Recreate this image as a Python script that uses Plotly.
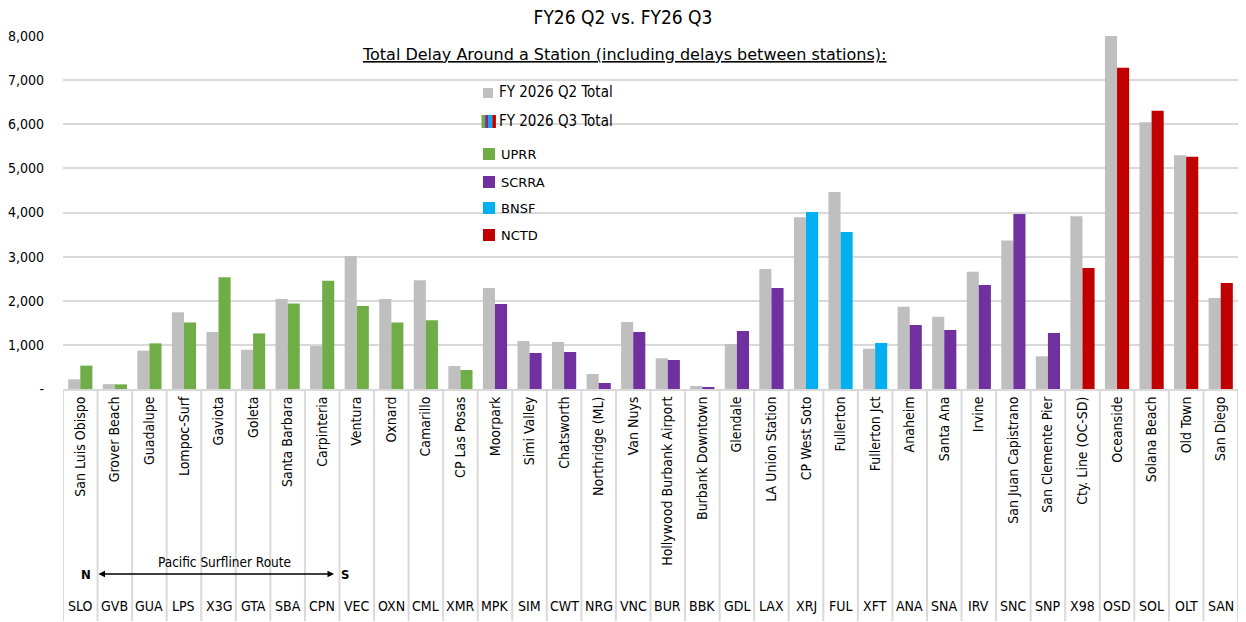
import plotly.graph_objects as go

codes = ["SLO","GVB","GUA","LPS","X3G","GTA","SBA","CPN","VEC","OXN","CML","XMR",
         "MPK","SIM","CWT","NRG","VNC","BUR","BBK","GDL","LAX","XRJ","FUL","XFT",
         "ANA","SNA","IRV","SNC","SNP","X98","OSD","SOL","OLT","SAN"]
names = ["San Luis Obispo","Grover Beach","Guadalupe","Lompoc-Surf","Gaviota","Goleta",
         "Santa Barbara","Carpinteria","Ventura","Oxnard","Camarillo","CP Las Posas",
         "Moorpark","Simi Valley","Chatsworth","Northridge (ML)","Van Nuys",
         "Hollywood Burbank Airport","Burbank Downtown","Glendale","LA Union Station",
         "CP West Soto","Fullerton","Fullerton Jct","Anaheim","Santa Ana","Irvine",
         "San Juan Capistrano","San Clemente Pier","Cty. Line (OC-SD)","Oceanside",
         "Solana Beach","Old Town","San Diego"]
operators = (["UPRR"]*12 + ["SCRRA"]*9 + ["BNSF"]*3 + ["SCRRA"]*5 + ["NCTD"]*5)
q2_total = [220,110,870,1740,1290,890,2040,975,3015,2040,2465,520,
            2290,1088,1066,340,1519,696,68,1020,2721,3893,4467,914,
            1866,1640,2660,3363,741,3916,8000,6047,5299,2063]
q3_total = [530,105,1035,1505,2530,1260,1935,2455,1880,1505,1557,430,
            1927,816,839,136,1293,658,38,1315,2290,4014,3560,1043,
            1451,1338,2358,3968,1270,2744,7279,6304,5261,2404]
y_ticks = [0,1000,2000,3000,4000,5000,6000,7000,8000]
y_tick_text = ["-","1,000","2,000","3,000","4,000","5,000","6,000","7,000","8,000"]

op_colors = {"UPRR":"#70AD47","SCRRA":"#7030A0","BNSF":"#00B0F0","NCTD":"#C00000"}
GRAY = "#BFBFBF"
GRID = "#D9D9D9"
COND = "DejaVu Sans Condensed, Liberation Sans Narrow, Arial Narrow, sans-serif"
GOTH = "DejaVu Sans, sans-serif"

fig = go.Figure()
fig.add_trace(go.Bar(x=codes, y=q2_total, name="FY 2026 Q2 Total",
                     marker=dict(color=GRAY, line=dict(width=0))))
fig.add_trace(go.Bar(x=codes, y=q3_total, name="FY 2026 Q3 Total",
                     marker=dict(color=[op_colors[o] for o in operators], line=dict(width=0))))

W, H = 1246, 622
L, R, T, B = 63, 8, 36, 233
pw, ph = W - L - R, H - T - B

def px(x):
    return (x - L) / pw

def py(y):
    return (H - B - y) / ph

shapes = []
annotations = []

# category separators below axis
for i in range(len(codes) + 1):
    shapes.append(dict(type="line", xref="x", yref="paper", x0=i - 0.5, x1=i - 0.5,
                       y0=0, y1=py(621), line=dict(color=GRID, width=2), layer="above"))

# code labels
for c in codes:
    annotations.append(dict(x=c, xref="x", y=py(606), yref="paper", text=c,
                            showarrow=False, font=dict(family=COND, size=14, color="#000"),
                            xanchor="center", yanchor="middle"))

# route arrow
annotations.append(dict(x=px(334), y=py(574), xref="paper", yref="paper", text="",
                        showarrow=True, ax=-237, ay=0, axref="pixel", ayref="pixel",
                        arrowside="end+start", arrowhead=2, arrowsize=1, arrowwidth=1.3,
                        arrowcolor="#000"))
annotations.append(dict(x=px(86), y=py(574), xref="paper", yref="paper", text="<b>N</b>",
                        showarrow=False, xanchor="center", yanchor="middle",
                        font=dict(family=COND, size=13, color="#000")))
annotations.append(dict(x=px(345), y=py(574), xref="paper", yref="paper", text="<b>S</b>",
                        showarrow=False, xanchor="center", yanchor="middle",
                        font=dict(family=COND, size=13, color="#000")))
annotations.append(dict(x=px(224), y=py(562), xref="paper", yref="paper",
                        text="Pacific Surfliner Route", showarrow=False,
                        xanchor="center", yanchor="middle",
                        font=dict(family=COND, size=13.5, color="#000")))

# subtitle
annotations.append(dict(x=px(624), y=py(55), xref="paper", yref="paper",
                        text="<u>Total Delay Around a Station (including delays between stations):</u>",
                        showarrow=False, xanchor="center", yanchor="middle",
                        font=dict(family=GOTH, size=16, color="#000")))

# legend box
shapes.append(dict(type="rect", xref="paper", yref="paper", x0=px(470), x1=px(621),
                   y0=py(250), y1=py(76), fillcolor="white", line=dict(width=0), layer="between"))
shapes.append(dict(type="rect", xref="paper", yref="paper", x0=px(483), x1=px(493),
                   y0=py(98), y1=py(88), fillcolor=GRAY, line=dict(width=0), layer="above"))
stripe_cols = ["#70AD47", "#7030A0", "#00B0F0", "#C00000"]
for k, col in enumerate(stripe_cols):
    shapes.append(dict(type="rect", xref="paper", yref="paper",
                       x0=px(481.5 + k * 3.6), x1=px(481.5 + (k + 1) * 3.6),
                       y0=py(128), y1=py(115), fillcolor=col, line=dict(width=0), layer="above"))
annotations.append(dict(x=px(497), y=py(92), xref="paper", yref="paper", text="FY 2026 Q2 Total",
                        showarrow=False, xanchor="left", yanchor="middle",
                        font=dict(family=COND, size=15, color="#000")))
annotations.append(dict(x=px(497), y=py(121), xref="paper", yref="paper", text="FY 2026 Q3 Total",
                        showarrow=False, xanchor="left", yanchor="middle",
                        font=dict(family=COND, size=15, color="#000")))
leg_ops = [("UPRR", 154), ("SCRRA", 182), ("BNSF", 208), ("NCTD", 235)]
for op, yy in leg_ops:
    shapes.append(dict(type="rect", xref="paper", yref="paper", x0=px(483), x1=px(495),
                       y0=py(yy + 6), y1=py(yy - 6), fillcolor=op_colors[op],
                       line=dict(width=0), layer="above"))
    annotations.append(dict(x=px(499), y=py(yy), xref="paper", yref="paper", text=op,
                            showarrow=False, xanchor="left", yanchor="middle",
                            font=dict(family=GOTH, size=13, color="#000")))

fig.update_layout(
    width=W, height=H,
    margin=dict(l=L, r=R, t=T, b=B, pad=0, autoexpand=False),
    plot_bgcolor="white", paper_bgcolor="white",
    barmode="group", bargap=0.3, bargroupgap=0,
    showlegend=False,
    title=dict(text="FY26 Q2 vs. FY26 Q3", x=0.5, xref="container", xanchor="center",
               y=1 - 17 / H, yanchor="middle",
               font=dict(family=COND, size=19, color="#000")),
    shapes=shapes, annotations=annotations,
    xaxis=dict(type="category", tickmode="array", tickvals=codes, ticktext=names,
               tickangle=-90, tickfont=dict(family=COND, size=14, color="#000"),
               showgrid=False, showline=True, linecolor=GRID, linewidth=2, ticks="",
               range=[-0.5, len(codes) - 0.5], automargin=False),
    yaxis=dict(range=[0, 8000], tickmode="array", tickvals=y_ticks, ticktext=y_tick_text,
               tickfont=dict(family=COND, size=14, color="#000"),
               showgrid=True, gridcolor=GRID, gridwidth=2, zeroline=False,
               showline=False, ticks="", ticklabelstandoff=18, automargin=False),
)

fig.write_html("out.html", config={"displayModeBar": False},
               post_script="document.body.style.margin='0';document.body.style.overflow='hidden';")
